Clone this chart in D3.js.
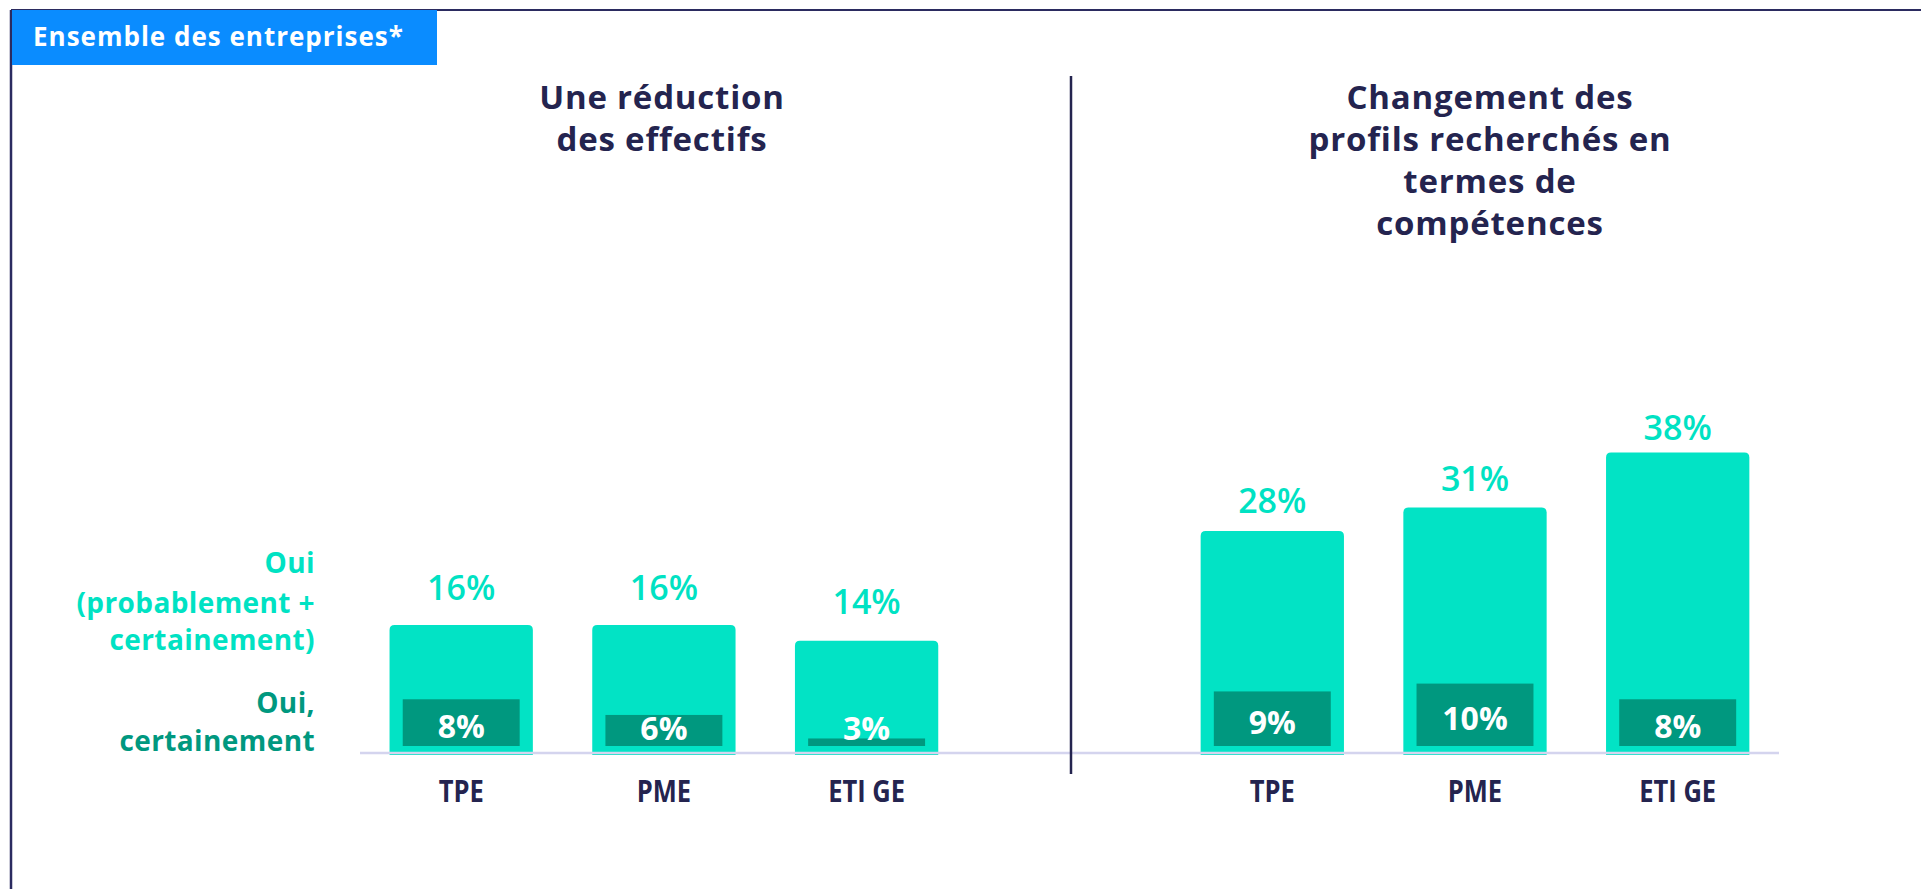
<!DOCTYPE html>
<html>
<head>
<meta charset="utf-8">
<script src="https://cdn.jsdelivr.net/npm/d3@7"></script>
<style>
  html, body { margin: 0; padding: 0; background: #ffffff; }
  svg { display: block; }
  text { font-family: "Open Sans", "DejaVu Sans", sans-serif; }
</style>
</head>
<body>
<svg id="chart" width="1921" height="889"></svg>
<script>
// ---- data ----
const headerLabel = "Ensemble des entreprises*";
const categories = ["TPE", "PME", "ETI GE"];
const titleReduction = ["Une réduction", "des effectifs"];
const titleProfils = ["Changement des", "profils recherchés en", "termes de", "compétences"];
const reductionTotal = [16, 16, 14];      // Oui (probablement + certainement)
const reductionCertain = [8, 6, 3];       // Oui, certainement
const profilsTotal = [28, 31, 38];
const profilsCertain = [9, 10, 8];
const legendTotal = ["Oui", "(probablement +", "certainement)"];
const legendCertain = ["Oui,", "certainement"];

// ---- styles ----
const NAVY = "#24244f";
const LIGHT = "#02e3c5";
const DARK = "#00987f";
const LABEL_LIGHT = "#00e2c3";
const HEADER = "#0a8cff";
const AXIS = "#d4d4ee";

const svg = d3.select("#chart");

// frame
svg.append("line").attr("x1", 11).attr("x2", 1921).attr("y1", 10).attr("y2", 10)
  .attr("stroke", "#2b2b60").attr("stroke-width", 2);
svg.append("line").attr("x1", 11).attr("x2", 11).attr("y1", 10).attr("y2", 889)
  .attr("stroke", "#2b2b60").attr("stroke-width", 2.5);

// header
svg.append("rect").attr("x", 12).attr("y", 10).attr("width", 425).attr("height", 55).attr("fill", HEADER);
svg.append("text").attr("x", 33).attr("y", 46).attr("fill", "#fff")
  .attr("font-size", 26).attr("font-weight", 700).attr("letter-spacing", 1).text(headerLabel);

// scales
const y = d3.scaleLinear().domain([0, 40]).range([750.5, 436.9]);      // bars
const yLab = d3.scaleLinear().domain([0, 40]).range([715.5, 425.5]);   // value label baselines
const yDark = d3.scaleLinear().domain([2.04, 40]).range([746, 448.4]); // "certainement" bars
const BAR_BOTTOM = 755;

const panels = [
  { title: titleReduction, total: reductionTotal, certain: reductionCertain,
    range: [288.2, 1039.6], titleX: 662 },
  { title: titleProfils, total: profilsTotal, certain: profilsCertain,
    range: [1099.3, 1850.7], titleX: 1490 }
];

function topRounded(x, yTop, w, yBottom, r) {
  return `M${x},${yBottom}V${yTop + r}Q${x},${yTop} ${x + r},${yTop}H${x + w - r}Q${x + w},${yTop} ${x + w},${yTop + r}V${yBottom}Z`;
}

panels.forEach(p => {
  const x = d3.scaleBand().domain(categories).range(p.range).paddingInner(0.293).paddingOuter(0.5);
  const g = svg.append("g");
  const data = categories.map((c, i) => ({ c, total: p.total[i], certain: p.certain[i] }));

  // light bars
  g.selectAll("path.total").data(data).join("path")
    .attr("class", "total")
    .attr("d", d => topRounded(x(d.c), y(d.total), x.bandwidth(), BAR_BOTTOM, 5))
    .attr("fill", LIGHT);

  // dark bars
  const dw = x.bandwidth() * 0.816;
  const base = yDark(2.04);
  g.selectAll("rect.certain").data(data).join("rect")
    .attr("class", "certain")
    .attr("x", d => x(d.c) + (x.bandwidth() - dw) / 2)
    .attr("y", d => Math.min(yDark(d.certain), base))
    .attr("width", dw)
    .attr("height", d => Math.max(base - yDark(d.certain), 0))
    .attr("fill", DARK);

  // total labels
  g.selectAll("text.tl").data(data).join("text")
    .attr("class", "tl")
    .attr("x", d => x(d.c) + x.bandwidth() / 2)
    .attr("y", d => yLab(d.total))
    .attr("text-anchor", "middle")
    .attr("fill", LABEL_LIGHT).attr("font-size", 34).attr("font-weight", 600)
    .text(d => d.total + "%");

  // certain labels
  g.selectAll("text.cl").data(data).join("text")
    .attr("class", "cl")
    .attr("x", d => x(d.c) + x.bandwidth() / 2)
    .attr("y", d => {
      const top = Math.min(yDark(d.certain), base);
      return Math.min((top + base) / 2 + 15, 740);
    })
    .attr("text-anchor", "middle")
    .attr("fill", "#fff").attr("font-size", 32).attr("font-weight", 700)
    .text(d => d.certain + "%");

  // category labels (slightly condensed)
  g.selectAll("text.cat").data(data).join("text")
    .attr("class", "cat")
    .attr("transform", d => `translate(${x(d.c) + x.bandwidth() / 2},802) scale(0.85,1)`)
    .attr("text-anchor", "middle")
    .attr("fill", NAVY).attr("font-size", 30).attr("font-weight", 700)
    .text(d => d.c);

  // title
  const t = svg.append("text").attr("text-anchor", "middle").attr("fill", NAVY)
    .attr("font-size", 33).attr("font-weight", 700).attr("letter-spacing", 0.8);
  p.title.forEach((line, i) => {
    t.append("tspan").attr("x", p.titleX).attr("y", 109 + i * 42).text(line);
  });
});

// axis line
svg.append("line").attr("x1", 360).attr("x2", 1779).attr("y1", 753).attr("y2", 753)
  .attr("stroke", AXIS).attr("stroke-width", 2.5);

// separator
svg.append("line").attr("x1", 1071).attr("x2", 1071).attr("y1", 76).attr("y2", 774)
  .attr("stroke", NAVY).attr("stroke-width", 2.5);

// legend
const lt = svg.append("text").attr("text-anchor", "end").attr("fill", LABEL_LIGHT)
  .attr("font-size", 28).attr("font-weight", 700).attr("letter-spacing", 0.4);
[573, 613, 650].forEach((yy, i) => lt.append("tspan").attr("x", 315).attr("y", yy).text(legendTotal[i]));
const lc = svg.append("text").attr("text-anchor", "end").attr("fill", DARK)
  .attr("font-size", 28).attr("font-weight", 700).attr("letter-spacing", 0.4);
[713, 751].forEach((yy, i) => lc.append("tspan").attr("x", 315).attr("y", yy).text(legendCertain[i]));
</script>
</body>
</html>
